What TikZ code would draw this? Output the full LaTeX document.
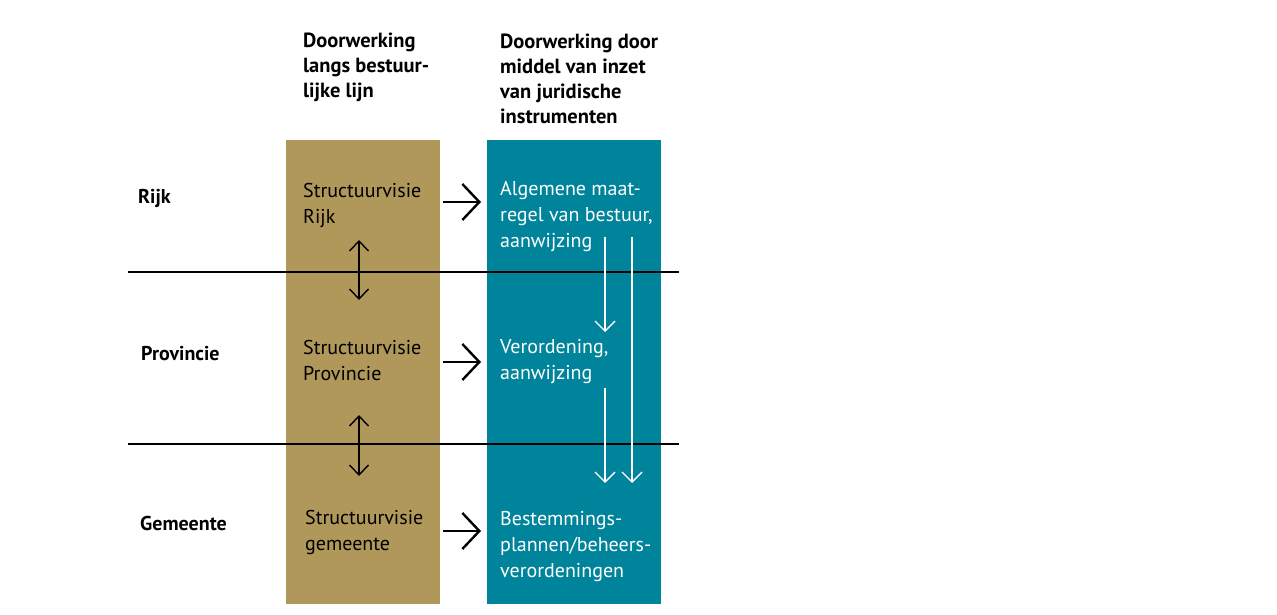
\documentclass[tikz,border=0pt]{standalone}
\usepackage{fontspec}
\setmainfont{PT Sans}
\usetikzlibrary{arrows.meta}
\definecolor{goldc}{RGB}{176,151,90}
\definecolor{tealc}{RGB}{0,132,155}
\begin{document}
\begin{tikzpicture}[x=1pt,y=-1pt,
  col/.style={draw=none,inner sep=0pt,anchor=north west},
  txt/.style={inner sep=0pt,anchor=base west,align=left,font=\fontsize{20}{26}\selectfont},
  hdr/.style={txt,font=\fontsize{20.5}{25.3}\selectfont\bfseries},
  lvl/.style={txt,font=\fontsize{20}{26}\selectfont\bfseries},
  bigarrow/.style={line width=2.4pt,-{Straight Barb[length=17pt,width=36pt,line width=2.4pt]}},
  dblarrow/.style={line width=1.4pt,{Straight Barb[length=10pt,width=19pt,line width=1.4pt]}-{Straight Barb[length=10pt,width=19pt,line width=1.4pt]}},
  wharrow/.style={white,line width=1.4pt,-{Straight Barb[length=10pt,width=20pt,line width=1.4pt]}},
  sepline/.style={line width=1.2pt}]
\useasboundingbox (0,0) rectangle (1277,615);
\fill[white] (0,0) rectangle (1277,615);
% columns
\node[col,fill=goldc,minimum width=154pt,minimum height=464pt] (gold) at (286,140) {};
\node[col,fill=tealc,minimum width=174pt,minimum height=464pt] (teal) at (487,140) {};
% separator lines
\coordinate (l1a) at (128,272); \coordinate (l1b) at (679,272);
\coordinate (l2a) at (128,444); \coordinate (l2b) at (679,444);
\draw[sepline] (l1a) -- (l1b);
\draw[sepline] (l2a) -- (l2b);
% headers (anchor = baseline of last line)
\node[hdr] (h1) at (303,98) {Doorwerking\\langs bestuur-\\lijke lijn};
\node[hdr] (h2) at (500,124) {Doorwerking door\\middel van inzet\\van juridische\\instrumenten};
% levels
\node[lvl] (rijk) at (138,203) {Rijk};
\node[lvl] (prov) at (141,360) {Provincie};
\node[lvl] (gem) at (140,530) {Gemeente};
% gold texts
\node[txt] (sr) at (303,223) {Structuurvisie\\Rijk};
\node[txt] (sp) at (303,380) {Structuurvisie\\Provincie};
\node[txt] (sg) at (305,550) {Structuurvisie\\gemeente};
% teal texts
\node[txt,white] (tr) at (500,247) {Algemene maat-\\regel van bestuur,\\aanwijzing};
\node[txt,white] (tp) at (500,379) {Verordening,\\aanwijzing};
\node[txt,white] (tg) at (500,577) {Bestemmings-\\plannen/beheers-\\verordeningen};
% horizontal arrows
\coordinate (a1s) at (443,202); \coordinate (a1e) at (481,202);
\coordinate (a2s) at (443,362); \coordinate (a2e) at (481,362);
\coordinate (a3s) at (443,531); \coordinate (a3e) at (481,531);
\draw[bigarrow] (a1s) -- (a1e);
\draw[bigarrow] (a2s) -- (a2e);
\draw[bigarrow] (a3s) -- (a3e);
% vertical double arrows
\coordinate (d1s) at (359,240); \coordinate (d1e) at (359,300);
\coordinate (d2s) at (359,415); \coordinate (d2e) at (359,476);
\draw[dblarrow] (d1s) -- (d1e);
\draw[dblarrow] (d2s) -- (d2e);
% white arrows
\coordinate (w1s) at (605,237); \coordinate (w1e) at (605,332);
\coordinate (w2s) at (632,237); \coordinate (w2e) at (632,483);
\coordinate (w3s) at (605,388); \coordinate (w3e) at (605,483);
\draw[wharrow] (w1s) -- (w1e);
\draw[wharrow] (w2s) -- (w2e);
\draw[wharrow] (w3s) -- (w3e);
\end{tikzpicture}
\end{document}
